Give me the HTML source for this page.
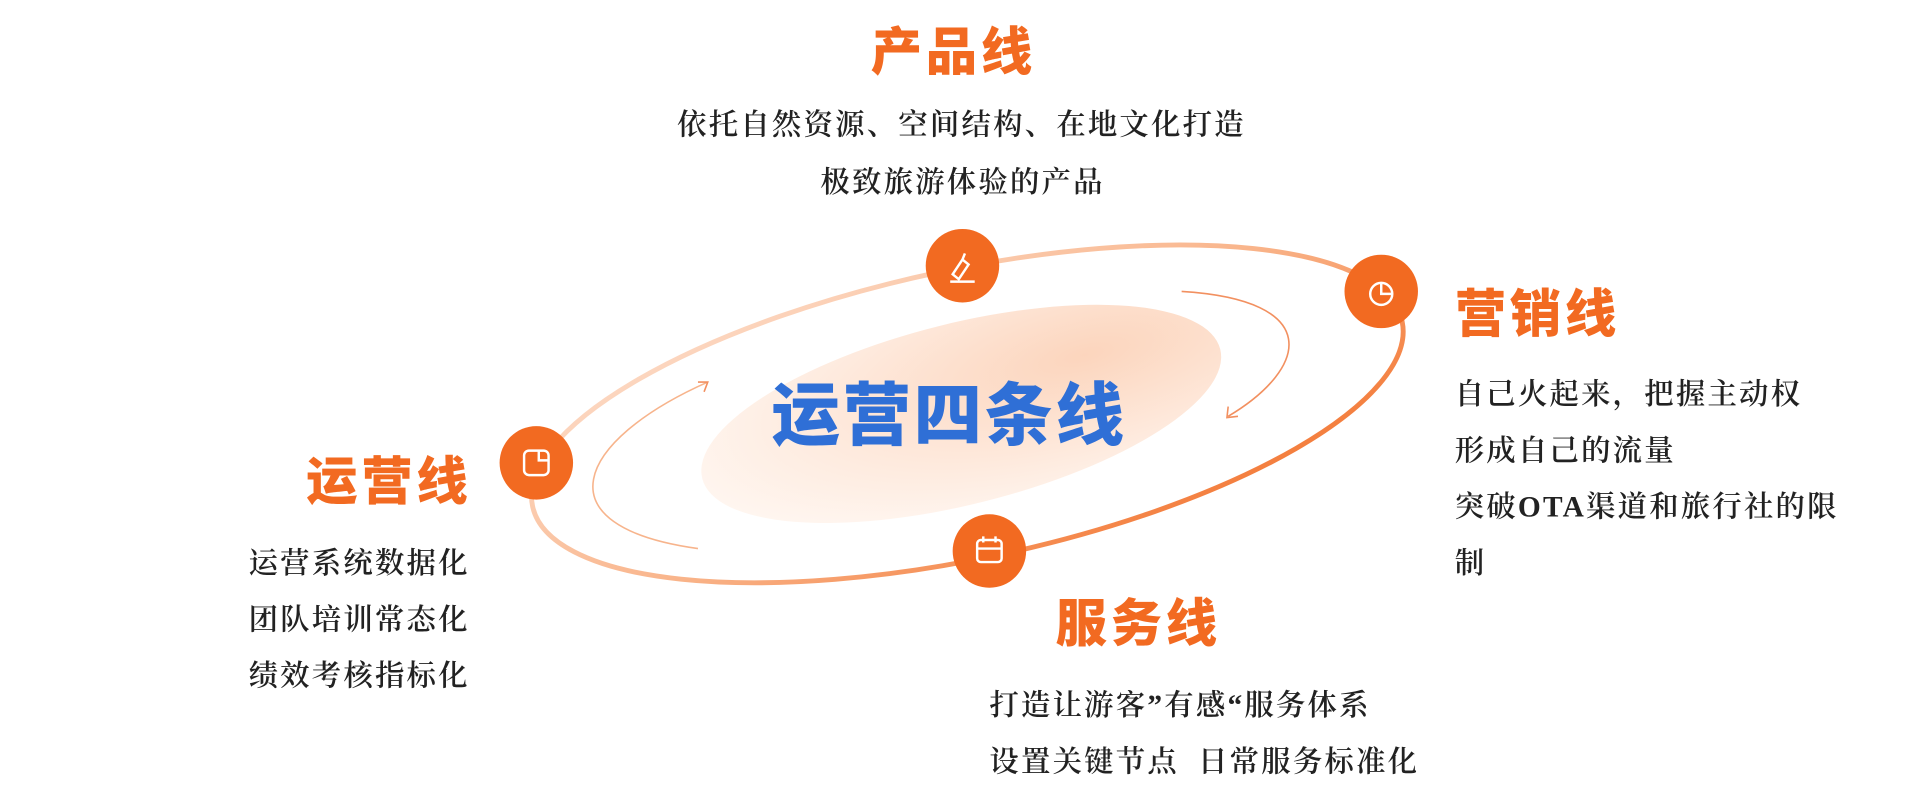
<!DOCTYPE html>
<html><head><meta charset="utf-8"><style>
html,body{margin:0;padding:0;background:#fff;width:1920px;height:800px;overflow:hidden}
#w{position:absolute;left:0;top:0;width:1568px;height:653px;transform:scale(1.2245);transform-origin:0 0}
.t{position:absolute;font-family:"Liberation Sans","Noto Sans CJK SC",sans-serif;font-weight:900;color:#f26a21;font-size:42px;letter-spacing:3px;line-height:1;white-space:nowrap}
.d{position:absolute;font-family:"Liberation Serif","Noto Serif CJK SC",serif;font-weight:600;color:#222;font-size:24px;letter-spacing:1.8px;line-height:46px;white-space:nowrap}
</style></head><body><div id="w">
<svg width="1568" height="653" style="position:absolute;left:0;top:0">
<defs>
<linearGradient id="g" x1="0" y1="0" x2="1" y2="1">
<stop offset="0" stop-color="#fde3d3"/><stop offset="0.5" stop-color="#f9b48a"/><stop offset="1" stop-color="#f26a21"/></linearGradient>
<radialGradient id="c" cx="0.75" cy="0.35" r="0.8">
<stop offset="0" stop-color="#fcd5bd"/><stop offset="1" stop-color="#fff6f0"/></radialGradient>
</defs>
<ellipse cx="785" cy="338" rx="218" ry="74" transform="rotate(-14 785 338)" fill="url(#c)"/>
<ellipse cx="790" cy="338" rx="363" ry="118" transform="rotate(-12 790 338)" fill="none" stroke="url(#g)" stroke-width="4"/>
<path d="M570 448 C 440 430 470 360 578 312" fill="none" stroke="#f7b48c" stroke-width="1.3"/>
<path d="M570 312 L578 312 L575 320" fill="none" stroke="#f29060" stroke-width="1.3"/>
<path d="M965 238 C 1080 245 1070 300 1003 340" fill="none" stroke="#f29060" stroke-width="1.3"/>
<path d="M1003 332 L1002 341 L1011 340" fill="none" stroke="#f29060" stroke-width="1.3"/>
<g fill="#f26a21"><circle cx="786" cy="217" r="30"/><circle cx="1128" cy="238" r="30"/><circle cx="438" cy="378" r="30"/><circle cx="808" cy="450" r="30"/></g>
<g fill="none" stroke="#fff" stroke-width="2">
<path d="M776 230 h20 M783 228 l8-12 l-5-4 l-8 12 z M786 212 l2-5"/>
<circle cx="1128" cy="240" r="9"/><path d="M1128 231 v9 h9"/>
<rect x="428" y="368" width="20" height="20" rx="4"/><path d="M440 368 v8 h8"/>
<rect x="798" y="441" width="20" height="18" rx="3"/><path d="M798 448 h20 M803 438 v5 M813 438 v5"/>
</g>
</svg>
<div class="t" style="left:711px;top:22px">产品线</div>
<div class="d" style="left:553px;top:80px">依托自然资源、空间结构、在地文化打造</div>
<div class="d" style="left:670px;top:127px">极致旅游体验的产品</div>
<div class="t" style="left:1188px;top:236px">营销线</div>
<div class="d" style="left:1188px;top:300px">自己火起来，把握主动权<br>形成自己的流量<br>突破OTA渠道和旅行社的限<br>制</div>
<div class="t" style="left:250px;top:373px">运营线</div>
<div class="d" style="left:203px;top:438px">运营系统数据化<br>团队培训常态化<br>绩效考核指标化</div>
<div class="t" style="left:862px;top:489px">服务线</div>
<div class="d" style="left:808px;top:554px">打造让游客”有感“服务体系<br>设置关键节点&nbsp;&nbsp;日常服务标准化</div>
<div class="t" style="left:630px;top:312px;font-size:56px;color:#2f6fd6;letter-spacing:2px">运营四条线</div>
</div></body></html>
